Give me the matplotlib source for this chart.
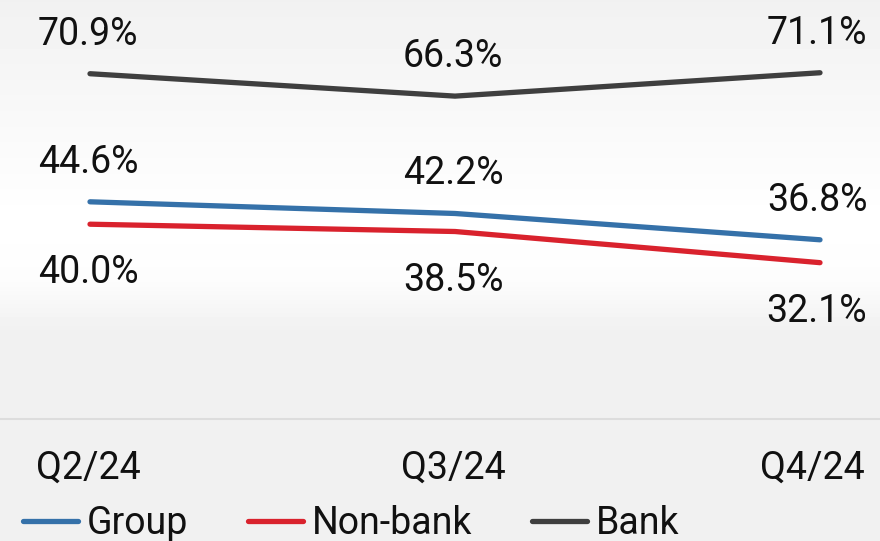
import numpy as np
import matplotlib.pyplot as plt
import matplotlib.transforms as mtransforms

plt.rcParams['font.family'] = ['Roboto', 'DejaVu Sans']

quarters = ["Q2/24", "Q3/24", "Q4/24"]
group = [44.6, 42.2, 36.8]
non_bank = [40.0, 38.5, 32.1]
bank = [70.9, 66.3, 71.1]

series = [
    ("Group", group, "#3571a9", "above"),
    ("Non-bank", non_bank, "#d9222d", "below"),
    ("Bank", bank, "#3f3f3f", "above"),
]

W, H = 880, 541
FS = 27
fig = plt.figure(figsize=(W / 100, H / 100), dpi=100)

# background gradient: grey at top, white in the middle, grey at the bottom
bg = fig.add_axes([0, 0, 1, 1])
rows = np.arange(H)
shade = np.interp(rows, [0, 120, 220, 280, 330, H], [0.945, 0.975, 1.0, 0.99, 0.945, 0.945])
bg.imshow(np.repeat(shade[:, None], 2, axis=1), cmap="gray", vmin=0, vmax=1,
          aspect="auto", extent=[0, 1, 0, 1])
bg.axhline(1 - 419 / H, color="#dddddd", lw=1.5)
bg.set_axis_off()

# plot area: y=0 sits on the grey baseline at pixel 419
ax = fig.add_axes([0, 1 - 419 / H, 1, 419 / H])
ax.patch.set_alpha(0)
x = np.arange(len(quarters))
ax.set_xlim(-90 / 365, 2 + 60 / 365)
ax.set_ylim(0, 419 / 4.87)

for name, vals, color, pos in series:
    ax.plot(x, vals, color=color, lw=3.8, solid_capstyle="round", label=name)
    for i, v in enumerate(vals):
        dy = 29 if pos == "above" else -59
        xo = -3 if i == 2 else -2
        ax.annotate(f"{v:.1f}%", (x[i], v), xytext=(xo, dy), textcoords="offset pixels",
                    ha="center", va="baseline", fontsize=FS, color="#111111")

for s in ax.spines.values():
    s.set_visible(False)
ax.set_yticks([])
ax.set_xticks(x)
ax.set_xticklabels(quarters, fontsize=FS, color="#111111")
ax.tick_params(axis="x", length=0, pad=22)
for i, lab in enumerate(ax.get_xticklabels()):
    shift = -8 if i == 2 else -2
    lab.set_transform(lab.get_transform() +
                      mtransforms.ScaledTranslation(shift / 100, 0, fig.dpi_scale_trans))

fig.legend(loc="lower left", bbox_to_anchor=(-0.012, -0.064), ncol=3, frameon=False,
           fontsize=FS, handlelength=1.45, handletextpad=0.25, columnspacing=1.6,
           labelcolor="#111111")

fig.savefig("out.png", dpi=100)
